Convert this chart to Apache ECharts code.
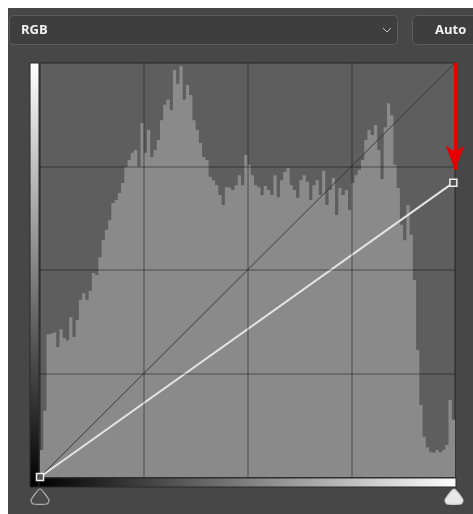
<!DOCTYPE html>
<html><head><meta charset="utf-8">
<script src="https://cdn.jsdelivr.net/npm/echarts@6/dist/echarts.min.js"></script>
<style>html,body{margin:0;padding:0;background:#fff}#c{width:473px;height:514px}</style>
</head><body><div id="c"></div>
<script>
// Histogram (128 bins, height as % of plot height)
const histogram = [
  6.5, 16, 34.5, 34.8, 35, 31.4, 35.7, 33.6, 33, 38.6,
  33.8, 37.9, 42.8, 44.4, 42.8, 45, 49.3, 48.8, 53.1, 57.2,
  59.7, 62, 66.2, 66.9, 68.6, 71, 74.9, 76.6, 78.3, 79,
  75, 85.5, 78.3, 83.8, 77.3, 79, 81.4, 86.2, 89.9, 91.2,
  88.6, 98.3, 95, 99.3, 91.2, 94.7, 92.3, 86.2, 83.8, 80.7,
  77.3, 76.6, 72.5, 71.7, 70.5, 68.1, 65.7, 70, 69.8, 69.3,
  70.5, 72.9, 70.5, 77.8, 75.4, 72.9, 70.5, 70, 68.1, 70.3,
  69.3, 68.1, 72.9, 67.6, 71.7, 73.7, 74.6, 70.5, 69.3, 67.4,
  71.7, 72.9, 71.3, 66.9, 70.5, 71.7, 68.1, 74, 65.7, 69.3,
  72.2, 63.3, 69.8, 68.1, 69.3, 64.5, 71, 72.9, 74.2, 76.6,
  81.4, 83.8, 82.6, 85, 79, 72, 84.5, 90.3, 87.4, 75.4,
  69.8, 60.9, 57.2, 65.7, 58.5, 47.6, 30.7, 17.4, 9.7, 7.2,
  6, 5.8, 6.5, 6, 6.5, 7.7, 18.6, 13.8
];
// Curve (input -> output, 0..256 scale)
const curveInput = [0, 255];
const curveOutput = [0, 182];
const diagonalIn = [0, 256];
const diagonalOut = [0, 256];
const gridTicks = [64, 128, 192];
const arrowX = 256, arrowFrom = 256, arrowTo = 190;
const channelLabel = 'RGB';
const autoLabel = 'Auto';

// step-area points: bin i spans [i, i+1]; closing point at the end
const histPoints = histogram.map((v, i) => [i, v]).concat([[histogram.length, histogram[histogram.length - 1]]]);

const chart = echarts.init(document.getElementById('c'), null, {renderer: 'canvas'});
const font = '"Open Sans", "DejaVu Sans", sans-serif';

chart.setOption({
  animation: false,
  backgroundColor: '#474747',
  grid: {left: 40, top: 63, width: 415, height: 414, show: true,
         backgroundColor: '#5e5e5e', borderColor: '#262626', borderWidth: 1},
  xAxis: [
    {type: 'value', min: 0, max: histogram.length, show: false},
    {type: 'value', min: 0, max: 256, show: false}
  ],
  yAxis: [
    {type: 'value', min: 0, max: 100, show: false},
    {type: 'value', min: 0, max: 256, show: false}
  ],
  series: [
    {
      type: 'line', xAxisIndex: 0, yAxisIndex: 0, data: histPoints,
      step: 'end', symbol: 'none', silent: true,
      lineStyle: {width: 0, color: '#8a8a8a'},
      areaStyle: {color: '#8a8a8a', opacity: 1}
    },
    {
      type: 'line', xAxisIndex: 1, yAxisIndex: 1, silent: true,
      data: diagonalIn.map((x, i) => [x, diagonalOut[i]]),
      symbol: 'none', lineStyle: {color: '#3b3b3b', width: 1},
      markLine: {
        silent: true, symbol: 'none', label: {show: false},
        lineStyle: {color: 'rgba(0,0,0,0.22)', width: 2, type: 'solid'},
        data: gridTicks.map(t => ({xAxis: t})).concat(gridTicks.map(t => ({yAxis: t})))
      }
    },
    {
      type: 'line', xAxisIndex: 1, yAxisIndex: 1, silent: true, clip: false,
      data: curveInput.map((x, i) => [x, curveOutput[i]]),
      symbol: 'rect', symbolSize: 7, showAllSymbol: true,
      lineStyle: {color: '#e4e4e4', width: 2},
      itemStyle: {color: '#555', borderColor: '#eeeeee', borderWidth: 1.5},
      markLine: {
        silent: true, symbol: ['none', 'arrow'], symbolSize: [14, 24],
        label: {show: false},
        lineStyle: {color: '#e60000', width: 3, type: 'solid'},
        itemStyle: {color: '#e60000'},
        data: [[{coord: [arrowX, arrowFrom]}, {coord: [arrowX, arrowTo]}]]
      }
    }
  ],
  graphic: [
    {type: 'rect', shape: {x: 0, y: 0, width: 473, height: 8}, style: {fill: '#ffffff'}, silent: true},
    {type: 'rect', shape: {x: 0, y: 0, width: 8, height: 514}, style: {fill: '#ffffff'}, silent: true},
    {type: 'rect', shape: {x: 9.5, y: 15.5, width: 388, height: 29, r: 4},
     style: {fill: '#3e3e3e', stroke: '#5c5c5c', lineWidth: 1}, silent: true},
    {type: 'text', x: 21, y: 30, style: {text: channelLabel, fill: '#f2f2f2',
      font: 'bold 13px ' + font, verticalAlign: 'middle'}, silent: true},
    {type: 'polyline', shape: {points: [[383, 28], [387, 32], [391, 28]]},
     style: {stroke: '#c0c0c0', lineWidth: 1, fill: null}, silent: true},
    {type: 'rect', shape: {x: 412.5, y: 15.5, width: 72, height: 29, r: 4},
     style: {fill: '#3e3e3e', stroke: '#5c5c5c', lineWidth: 1}, silent: true},
    {type: 'text', x: 435, y: 30, style: {text: autoLabel, fill: '#f2f2f2',
      font: 'bold 13px ' + font, verticalAlign: 'middle'}, silent: true},
    {type: 'rect', shape: {x: 30, y: 63, width: 9, height: 424},
     style: {stroke: '#2a2a2a', lineWidth: 1, fill: new echarts.graphic.LinearGradient(0, 0, 0, 1,
       [{offset: 0, color: '#ffffff'}, {offset: 1, color: '#000000'}])}, silent: true},
    {type: 'rect', shape: {x: 39, y: 478, width: 417, height: 9},
     style: {stroke: '#2a2a2a', lineWidth: 1, fill: new echarts.graphic.LinearGradient(0, 0, 1, 0,
       [{offset: 0, color: '#000000'}, {offset: 1, color: '#ffffff'}])}, silent: true},
    {type: 'polygon', shape: {points: [[40, 489], [49, 500], [47, 504], [33, 504], [31, 500]], smooth: 0.2},
     style: {fill: '#4a4a4a', stroke: '#b4b4b4', lineWidth: 1.2}, silent: true},
    {type: 'polygon', shape: {points: [[454, 489], [463, 500], [461, 504], [447, 504], [445, 500]], smooth: 0.2},
     style: {fill: '#e8e8e8', stroke: '#d0d0d0', lineWidth: 1.2}, silent: true}
  ]
});
</script>
</body></html>
